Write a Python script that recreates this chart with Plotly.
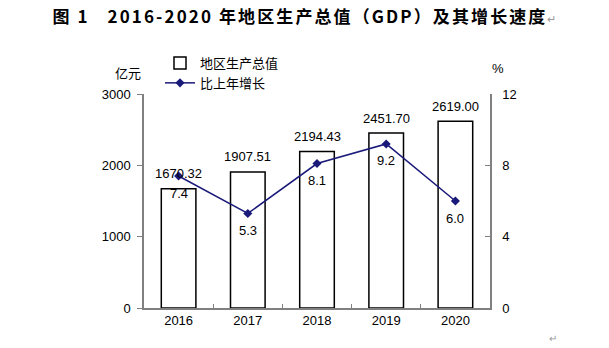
import plotly.graph_objects as go

years = ["2016", "2017", "2018", "2019", "2020"]
gdp = [1670.32, 1907.51, 2194.43, 2451.70, 2619.00]
growth = [7.4, 5.3, 8.1, 9.2, 6.0]
left_ticks = [0, 1000, 2000, 3000]
right_ticks = [0, 4, 8, 12]

W, H = 609, 348
ml, mr, mt, mb = 144, 119, 94, 40

fig = go.Figure()
fig.add_trace(go.Bar(
    x=years, y=gdp, name="地区生产总值",
    marker=dict(color="white", line=dict(color="black", width=1.5)),
    cliponaxis=False, width=0.5,
))
fig.add_trace(go.Scatter(
    x=years, y=growth, name="比上年增长", yaxis="y2",
    mode="lines+markers",
    line=dict(color="#1a1a7a", width=1.5),
    marker=dict(symbol="diamond", size=7, color="#1a1a7a"),
    cliponaxis=False,
))

# data labels: category axis positions are the category serial numbers
label_font = dict(size=13, color="black", family="Liberation Sans, Arial")
for i, v in enumerate(gdp):
    fig.add_annotation(x=i, y=v, xref="x", yref="y", text=f"{v:.2f}",
                       showarrow=False, yanchor="middle", yshift=15,
                       font=label_font)
for i, v in enumerate(growth):
    fig.add_annotation(x=i, y=v, xref="x", yref="y2", text=f"{v:.1f}",
                       showarrow=False, yanchor="middle", yshift=-17,
                       font=label_font)

axis_font = dict(size=13, color="black", family="Liberation Sans, Arial")
fig.update_layout(
    width=W, height=H,
    margin=dict(l=ml, r=mr, t=mt, b=mb),
    paper_bgcolor="white", plot_bgcolor="white",
    font=dict(family="Liberation Sans, Noto Sans CJK SC", size=13, color="black"),
    title=dict(
        text="<span style='letter-spacing:2.1px'><b>图 1   2016-2020 年地区生产总值（GDP）及其增长速度</b></span><span style='color:#999999;font-size:11px'>↵</span>",
        x=0.5, xanchor="center", y=1 - 17 / H, yanchor="middle",
        font=dict(size=17, family="Noto Sans CJK SC", color="black"),
    ),
    xaxis=dict(
        type="category", categoryorder="array", categoryarray=years,
        range=[-0.5, len(years) - 0.5],
        showline=True, linecolor="#808080", linewidth=1.5,
        ticks="inside", ticklen=4, tickcolor="#808080", tickson="boundaries",
        tickfont=axis_font, showgrid=False, zeroline=False,
    ),
    yaxis=dict(
        range=[0, 3000], tickvals=left_ticks,
        showline=True, linecolor="#808080", linewidth=1.5,
        ticks="outside", ticklen=5, tickcolor="#808080",
        tickfont=axis_font, showgrid=False, zeroline=False,
        ticklabelstandoff=4,
    ),
    yaxis2=dict(
        range=[0, 12], tickvals=right_ticks, overlaying="y", side="right",
        showline=True, linecolor="#808080", linewidth=1.5,
        ticks="inside", ticklen=5, tickcolor="#808080",
        tickfont=axis_font, showgrid=False, zeroline=False,
        ticklabelstandoff=8,
    ),
    legend=dict(
        x=(160 - ml) / (W - ml - mr), y=(H - mb - 48) / (H - mt - mb),
        xanchor="left", yanchor="top",
        bgcolor="rgba(0,0,0,0)", font=dict(size=13, family="Noto Sans CJK SC"),
        tracegroupgap=0, itemwidth=30,
    ),
    showlegend=True,
    bargap=0.5,
)

fig.add_annotation(text="亿元", xref="paper", yref="paper",
                   x=(128 - ml) / (W - ml - mr), y=(H - mb - 72) / (H - mt - mb),
                   showarrow=False, font=dict(size=13, family="Noto Sans CJK SC"),
                   xanchor="center", yanchor="middle")
fig.add_annotation(text="%", xref="paper", yref="paper",
                   x=(498 - ml) / (W - ml - mr), y=(H - mb - 69) / (H - mt - mb),
                   showarrow=False, font=dict(size=13, family="Liberation Sans"),
                   xanchor="center", yanchor="middle")
fig.add_annotation(text="↵", xref="paper", yref="paper",
                   x=(553 - ml) / (W - ml - mr), y=(H - mb - 338) / (H - mt - mb),
                   showarrow=False, font=dict(size=10, color="#999999"),
                   xanchor="center", yanchor="middle")

fig.write_html("out.html")
